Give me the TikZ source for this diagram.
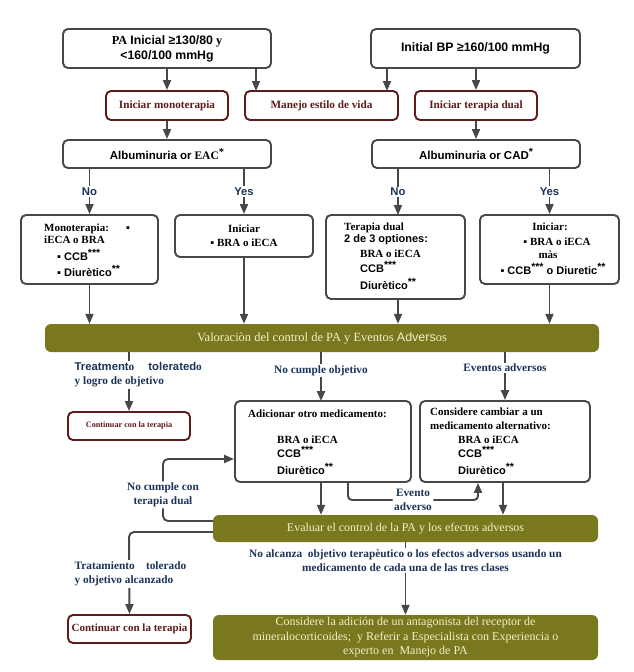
\documentclass[tikz,border=0pt]{standalone}
\usepackage{fontspec}
\setmainfont{Liberation Serif}
\setsansfont{Liberation Sans}
\usetikzlibrary{arrows.meta}
\definecolor{lg}{HTML}{474747}
\definecolor{rd}{HTML}{5E1B1B}
\definecolor{bl}{HTML}{1B3358}
\definecolor{ol}{HTML}{7A781E}
\definecolor{cr}{HTML}{F3EFCB}
\newcommand\fsz[2]{\fontsize{#1}{#2}\selectfont}
\newcommand\sast[1]{\raisebox{0.3em}{\fsz{10.5}{10.5}#1}}
\tikzset{
 box/.style={draw=lg, line width=1.9pt, rounded corners=5pt, fill=white, inner sep=0pt},
 rbox/.style={draw=rd, line width=1.9pt, rounded corners=5pt, fill=white, text=rd, font=\bfseries\fsz{11.2}{13}, inner sep=0pt},
 bar/.style={fill=ol, rounded corners=6pt, text=cr, inner sep=0pt, align=center},
 arr/.style={draw=lg, line width=1.9pt, -{Triangle[length=10pt,width=8pt]}},
 lbl/.style={text=bl, fill=white, inner sep=1.5pt, align=center, font=\bfseries\fsz{11.3}{13.8}},
 tx/.style={anchor=base west, inner sep=0pt, font=\bfseries\fsz{11}{13}},
 txc/.style={anchor=base, inner sep=0pt, font=\bfseries\fsz{11}{13}},
}
\begin{document}
\begin{tikzpicture}[x=1pt,y=-1pt]
\useasboundingbox (0,0) rectangle (633,672);

% top boxes
\node[box, minimum width=208pt, minimum height=39pt, align=center, font=\bfseries\fsz{12.3}{15}] (pa) at (167,48.5)
  {PA {\sffamily Inicial ≥130/80} y\\{\sffamily <160/100 mmHg}};
\node[box, minimum width=209pt, minimum height=39pt, font=\bfseries\fsz{12.3}{15}] (bp) at (475.5,48.5)
  {\sffamily Initial BP ≥160/100 mmHg};

\node[rbox, minimum width=122pt, minimum height=29pt] (mono) at (167,105.5) {Iniciar monoterapia};
\node[rbox, minimum width=153pt, minimum height=29pt] (life) at (321.5,105.5) {Manejo estilo de vida};
\node[rbox, minimum width=122pt, minimum height=29pt] (dualr) at (476,105.5) {Iniciar terapia dual};

\node[box, minimum width=208pt, minimum height=28pt, font=\bfseries\fsz{11.5}{13}] (eac) at (167,154)
  {{\sffamily Albuminuria or} EAC\sast{*}};
\node[box, minimum width=208pt, minimum height=28pt, font=\bfseries\fsz{11.5}{13}] (cad) at (476,154)
  {\sffamily Albuminuria or CAD\sast{*}};

% second row boxes
\node[box, minimum width=137pt, minimum height=69pt] (monoT) at (89.5,249.5) {};
\node[box, minimum width=138pt, minimum height=42pt, align=center, font=\bfseries\fsz{11}{14}] (iniA) at (244,236)
  {Iniciar\\▪ BRA o iECA};
\node[box, minimum width=139pt, minimum height=84pt] (dualT) at (395.5,257) {};
\node[box, minimum width=139pt, minimum height=69pt] (iniB) at (549.5,249.5) {};

\node[tx] (m1) at (44,231) {Monoterapia:};
\node[tx] (m2) at (126,231) {\sffamily ▪};
\node[tx] (m3) at (44,243) {iECA o BRA};
\node[tx] (m4) at (57,260) {\sffamily ▪ CCB\sast{***}};
\node[tx] (m5) at (57,276) {\sffamily ▪ Diurètico\sast{**}};

\node[tx] (d1) at (344,230) {Terapia dual};
\node[tx] (d2) at (344,242) {\sffamily 2 de 3 optiones:};
\node[tx] (d3) at (360,257) {BRA o iECA};
\node[tx] (d4) at (360,272) {\sffamily CCB\sast{***}};
\node[tx] (d5) at (360,289) {\sffamily Diurètico\sast{**}};

\node[txc] (b1) at (550,230) {Iniciar:};
\node[txc] (b2) at (557,245) {▪ BRA o iECA};
\node[txc] (b3) at (548,258) {màs};
\node[txc] (b4) at (553,274) {\sffamily ▪ CCB\sast{***} o Diuretic\sast{**}};

% bar 1
\node[bar, minimum width=554pt, minimum height=28pt, font=\fsz{12.5}{13}] (bar1) at (322,338)
  {Valoraciòn del control de PA y Eventos {\sffamily Advers}os};

\node[rbox, minimum width=122pt, minimum height=28pt, font=\bfseries\fsz{8.2}{10}] (cont1) at (129,426) {Continuar con la terapia};

\node[box, minimum width=176pt, minimum height=81pt] (add) at (323,441.5) {};
\node[box, minimum width=170pt, minimum height=81pt] (alt) at (505,441.5) {};

\node[tx] (a1) at (248,417) {Adicionar otro medicamento:};
\node[tx] (a2) at (277,443) {BRA o iECA};
\node[tx] (a3) at (277,457) {\sffamily CCB\sast{***}};
\node[tx] (a4) at (277,474) {\sffamily Diurètico\sast{**}};

\node[tx] (e1) at (430,415) {Considere cambiar a un};
\node[tx] (e2) at (430,429) {medicamento alternativo:};
\node[tx] (e3) at (458,443) {BRA o iECA};
\node[tx] (e4) at (458,457) {\sffamily CCB\sast{***}};
\node[tx] (e5) at (458,474) {\sffamily Diurètico\sast{**}};

\node[bar, minimum width=385pt, minimum height=27pt, font=\fsz{12}{13}] (bar2) at (405.5,528.5)
  {Evaluar el control de la PA y los efectos adversos};

\node[rbox, minimum width=123pt, minimum height=28pt, font=\bfseries\fsz{11}{13}] (cont2) at (129.5,629) {Continuar con la terapia};

\node[bar, minimum width=385pt, minimum height=45pt, font=\fsz{12}{14.5}] (bar3) at (405.5,637.5)
  {Considere la adición de un antagonista del receptor de\\mineralocorticoides;\ \ y Referir a Especialista con Experiencia o\\experto en\ \ Manejo de PA};

% connectors
\coordinate (c1) at (256,91);
\coordinate (c2) at (387,91);
\coordinate (c3) at (398,215);
\coordinate (c4) at (321,401);
\coordinate (c5) at (503,482);
\coordinate (c6) at (348,500);
\coordinate (c7) at (478,500);
\coordinate (c8) at (163,521);
\coordinate (c9) at (163,459);
\coordinate (c10) at (129,532);

\draw[arr] (pa.south) -- (mono.north);
\draw[arr] (pa.south -| c1) -- (c1);
\draw[arr] (bp.south -| c2) -- (c2);
\draw[arr] (dualr.north |- bp.south) -- (dualr.north);
\draw[arr] (mono.south) -- (eac.north);
\draw[arr] (dualr.south) -- (cad.north);

\draw[arr] (monoT.north |- eac.south) -- node[lbl]{\sffamily No} (monoT.north);
\draw[arr] (iniA.north |- eac.south) -- node[lbl]{\sffamily Yes} (iniA.north);
\draw[arr] (cad.south -| c3) -- node[lbl]{\sffamily No} (c3);
\draw[arr] (iniB.north |- cad.south) -- node[lbl]{\sffamily Yes} (iniB.north);

\draw[arr] (monoT.south) -- (monoT.south |- bar1.north);
\draw[arr] (iniA.south) -- (iniA.south |- bar1.north);
\draw[arr] (dualT.south -| c3) -- (c3 |- bar1.north);
\draw[arr] (iniB.south) -- (iniB.south |- bar1.north);

\draw[arr] (bar1.south -| cont1.north) -- (cont1.north);
\node[lbl, anchor=west, align=left] (l1) at (73,375)
  {{\sffamily Treatment}o\quad\ {\sffamily tolerated}o\\y logro de objetivo};
\draw[arr] (bar1.south -| c4) -- node[lbl, pos=0.38]{No cumple objetivo} (c4);
\draw[arr] (bar1.south -| alt.north) -- node[lbl, pos=0.33]{Eventos adversos} (alt.north);

\draw[arr] (add.south -| c4) -- (c4 |- bar2.north);
\draw[arr] (alt.south -| c5) -- (c5 |- bar2.north);
\draw[arr, rounded corners=4pt] (add.south -| c6) -- (c6) -- node[lbl]{Evento\\adverso} (c7) -- (c7 |- alt.south);

\draw[arr, rounded corners=5pt] (bar2.west |- c8) -- (c8) -- node[lbl, pos=0.42]{No cumple con\\terapia dual} (c9) -- (c9 -| add.west);
\draw[arr, rounded corners=5pt] (bar2.west |- c10) -- (c10) -- (cont2.north);
\node[lbl, anchor=west, align=left] (l5) at (73,574) {Tratamiento\quad tolerado\\y objetivo alcanzado};

\draw[arr] (bar2.south) -- node[lbl, pos=0.25]{No alcanza\ \ objetivo terapèutico o los efectos adversos usando un\\medicamento de cada una de las tres clases} (bar2.south |- bar3.north);
\end{tikzpicture}
\end{document}
